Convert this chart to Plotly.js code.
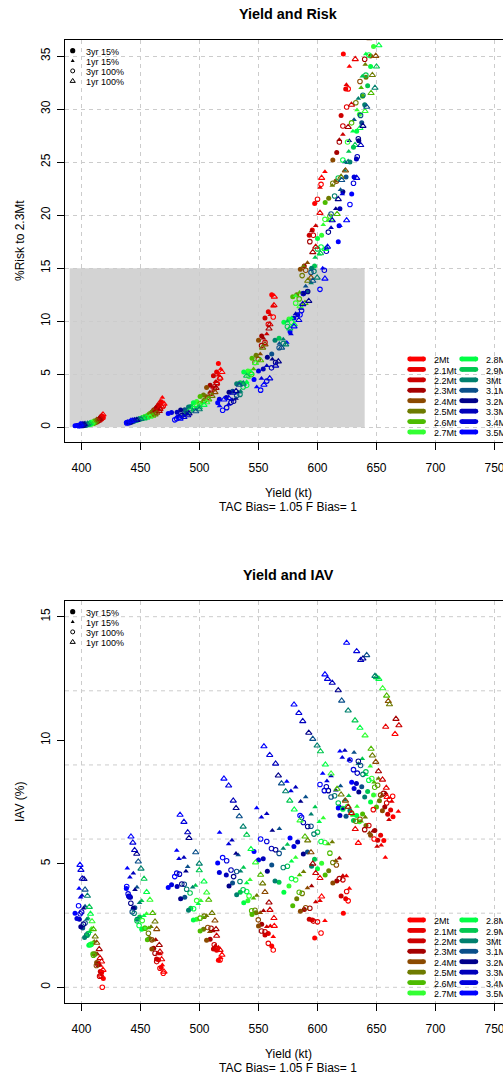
<!DOCTYPE html>
<html>
<head>
<meta charset="utf-8">
<script src="https://cdn.plot.ly/plotly-3.0.1.min.js"></script>
<style>html,body{margin:0;padding:0;overflow:hidden;background:#fff;}</style>
</head>
<body>
<div id="chart" style="width:576px;height:1077px;"></div>
<script>
// ---------------- DATA ----------------
const tacLabels = ["2Mt","2.1Mt","2.2Mt","2.3Mt","2.4Mt","2.5Mt","2.6Mt","2.7Mt","2.8Mt","2.9Mt","3Mt","3.1Mt","3.2Mt","3.3Mt","3.4Mt","3.5Mt"];
const typeLabels = ["3yr 15%","1yr 15%","3yr 100%","1yr 100%"];
const xTicks = [400,450,500,550,600,650,700,750];
const riskTicks = [0,5,10,15,20,25,30,35];
const iavTicks = [0,5,10,15];
const iavGrid = [0,3,6,9,12,15];
const riskZone = {yieldFrom:390, yieldTo:640, riskFrom:0, riskTo:15};

// rows = 8 scenario groups, columns = TAC 2Mt .. 3.5Mt
const yield3yr15 = [
 [418.5,417.2,415.9,414.1,412.8,411.0,409.6,408.0,406.2,404.9,402.6,401.0,399.4,398.2,396.1,394.5],
 [467.5,465.3,463.6,461.2,459.6,457.5,455.8,453.4,451.0,449.3,447.0,445.2,443.9,441.5,439.8,438.0],
 [516.0,514.5,511.8,509.0,506.0,503.4,500.5,497.6,494.8,492.6,490.7,487.5,484.0,481.0,476.3,473.5],
 [561.2,558.3,555.5,552.7,550.0,547.9,544.5,541.0,537.5,534.5,531.5,528.0,525.0,522.7,516.8,515.4],
 [597.6,595.6,593.0,588.8,585.5,582.4,579.0,575.8,571.5,567.4,564.0,561.2,557.5,554.0,550.0,546.2],
 [621.9,623.9,620.0,616.3,613.0,609.5,606.5,603.5,600.0,597.5,595.0,591.5,588.0,583.2,580.0,576.7],
 [656.2,653.5,651.0,648.6,645.0,641.1,638.2,635.5,633.2,630.5,627.5,624.2,621.5,619.0,618.3,617.6],
 [664.0,662.0,659.5,657.0,655.0,652.5,650.0,647.5,645.0,642.5,640.0,637.5,635.0,633.0,631.0,629.0]
];
const risk3yr15 = [
 [0.90,0.78,0.66,0.57,0.48,0.41,0.36,0.31,0.27,0.24,0.21,0.19,0.18,0.17,0.16,0.15],
 [2.40,2.10,1.85,1.62,1.42,1.25,1.10,0.98,0.88,0.78,0.70,0.63,0.57,0.52,0.48,0.45],
 [6.00,5.20,4.85,3.95,3.75,3.05,2.90,2.42,2.32,1.96,1.90,1.65,1.62,1.42,1.38,1.30],
 [12.5,10.9,10.3,8.6,8.2,6.8,6.5,5.3,5.2,4.2,4.1,3.4,3.3,2.8,2.65,2.3],
 [21.1,18.6,18.1,15.2,14.9,12.5,12.3,10.2,9.9,8.4,8.2,6.9,6.6,5.5,5.3,4.5],
 [35.2,31.9,29.4,25.9,25.2,21.6,21.2,18.1,17.8,15.2,15.0,12.8,12.6,10.6,10.3,9.0],
 [45.0,42.0,39.5,37.2,35.0,33.0,31.2,29.5,27.9,26.4,25.0,23.6,22.2,20.6,19.0,17.5],
 [52.0,49.5,47.0,44.5,42.2,40.0,37.9,35.9,34.0,32.2,30.4,28.7,27.0,25.3,23.6,22.0]
];
const iav3yr15 = [
 [0.36,0.62,0.64,0.98,1.00,1.34,1.36,1.72,1.70,2.10,2.02,2.40,2.45,2.75,2.78,3.00],
 [0.80,1.12,1.15,1.58,1.55,1.98,1.92,2.40,2.35,2.85,2.75,3.22,3.20,3.65,3.70,4.00],
 [1.10,1.50,1.55,1.95,1.90,2.35,2.28,2.75,2.72,3.20,3.12,3.65,3.58,4.08,4.15,4.04],
 [1.67,2.18,2.12,2.55,2.48,3.02,2.95,3.50,3.42,3.85,3.75,4.22,4.10,4.55,4.65,5.03],
 [2.00,2.72,2.75,3.15,3.08,3.58,3.30,4.10,3.85,4.25,4.30,4.95,4.70,5.20,5.15,5.50],
 [3.00,3.58,3.70,4.30,4.22,4.72,4.55,5.02,4.80,5.18,4.90,5.48,5.40,5.88,5.70,6.04],
 [5.94,6.15,5.95,6.35,6.15,6.55,7.01,6.70,6.95,6.75,7.15,6.92,7.25,6.95,7.30,7.26],
 [6.90,7.18,7.00,7.30,7.15,7.55,7.30,7.78,7.50,7.92,7.70,8.12,7.90,8.25,8.05,8.30]
];
const yield1yr15 = [
 [417.0,416.1,414.6,413.4,412.2,410.8,409.7,408.3,407.0,405.6,404.5,403.0,401.8,400.4,399.2,397.9],
 [468.5,466.6,464.7,462.9,460.8,458.9,457.0,455.1,452.9,451.0,449.2,447.0,445.3,443.9,441.0,438.8],
 [518.0,516.0,513.5,511.4,508.7,506.0,503.5,501.2,499.0,496.6,494.2,490.0,488.5,486.8,482.6,480.7],
 [562.5,560.0,557.0,554.2,551.5,548.6,545.8,542.8,540.0,537.3,534.8,532.8,530.9,527.5,524.7,517.0],
 [606.3,602.1,598.5,595.0,591.5,588.2,584.8,581.5,578.0,574.5,571.0,567.7,561.7,557.0,552.5,548.5],
 [627.0,624.5,621.5,618.5,615.5,612.5,609.0,604.9,601.5,598.0,594.6,590.0,585.7,581.5,577.5,574.0],
 [657.5,654.0,650.5,647.0,644.0,640.5,637.0,633.5,630.0,626.5,623.0,619.5,615.5,611.5,608.0,604.4],
 [668.5,663.0,660.6,657.9,654.5,651.7,648.0,644.7,641.0,638.0,634.6,631.0,627.0,623.2,621.0,619.0]
];
const risk1yr15 = [
 [1.10,0.95,0.82,0.70,0.60,0.52,0.45,0.40,0.35,0.31,0.28,0.25,0.23,0.22,0.21,0.20],
 [2.80,2.45,2.15,1.88,1.65,1.45,1.28,1.14,1.02,0.92,0.83,0.76,0.69,0.63,0.58,0.55],
 [5.50,4.90,4.30,3.78,3.30,2.90,2.55,2.25,2.00,1.80,1.62,1.45,1.32,1.20,1.08,1.00],
 [11.4,10.6,8.8,8.4,6.9,6.7,5.5,5.3,4.3,4.2,3.4,3.3,2.7,2.6,2.15,2.0],
 [24.1,22.6,19.0,18.5,15.5,15.2,12.7,12.4,10.3,10.0,8.3,7.9,6.4,5.8,4.6,3.8],
 [34.0,32.3,27.6,27.1,23.2,22.8,19.5,19.1,16.3,16.0,13.6,13.3,11.2,10.7,8.8,8.0],
 [48.0,45.0,42.0,39.2,36.6,34.2,32.0,29.9,27.9,26.0,24.2,22.4,20.6,18.8,16.9,15.0],
 [55.0,52.0,49.5,47.0,44.5,42.0,39.7,37.4,35.2,33.1,31.0,29.0,27.0,25.0,22.0,19.0]
];
const iav1yr15 = [
 [0.50,0.88,0.90,1.35,1.35,1.85,1.80,2.38,2.25,2.80,2.75,3.28,3.20,3.72,3.65,4.00],
 [0.90,1.35,1.38,1.92,1.90,2.45,2.40,2.98,2.90,3.50,3.42,4.05,3.95,4.62,4.45,4.82],
 [1.20,1.62,1.68,2.28,2.25,2.90,2.82,3.50,3.38,4.12,4.05,4.88,4.70,5.25,5.20,5.54],
 [2.05,2.48,2.45,3.10,3.02,3.72,3.60,4.35,4.22,4.85,4.70,5.35,5.42,5.95,5.80,6.27],
 [2.69,3.50,3.45,4.10,4.02,4.68,4.55,5.25,5.10,5.78,5.62,6.42,6.35,7.02,6.88,7.26],
 [4.00,4.50,4.52,5.22,5.12,5.88,5.80,6.85,6.70,7.30,7.00,7.70,7.52,8.10,7.95,8.33],
 [5.25,5.75,5.70,6.32,6.25,6.88,6.72,7.32,6.95,7.75,7.58,8.15,7.98,8.55,8.35,8.65],
 [7.12,7.52,6.78,7.85,7.75,8.45,8.30,8.95,8.60,9.25,9.05,9.50,9.20,9.58,9.30,9.55]
];
const yield3yr100 = [
 [417.6,416.4,415.3,413.9,412.6,411.2,410.1,408.5,407.3,405.7,404.4,403.0,401.6,400.1,398.9,397.5],
 [469.3,466.5,463.7,462.3,459.6,456.7,453.9,451.5,448.8,447.0,444.6,443.0,441.8,440.6,439.5,438.3],
 [517.4,515.0,512.5,509.8,507.0,504.0,500.5,497.6,495.0,492.0,489.1,487.1,485.0,483.0,480.7,479.0],
 [562.5,558.3,555.5,552.6,549.8,547.0,544.2,542.0,540.0,537.0,534.3,531.5,528.9,526.7,523.0,519.6],
 [603.0,600.0,596.5,593.5,590.0,587.0,584.5,581.5,578.0,574.5,571.0,567.5,564.5,561.0,557.0,551.8],
 [626.0,624.7,621.5,618.5,616.0,613.0,610.5,606.3,603.0,600.0,597.0,594.5,591.7,588.0,586.5,585.2],
 [648.0,647.3,643.5,640.0,636.0,632.5,628.9,625.5,621.5,617.6,614.5,611.5,609.2,607.5,605.8,602.1],
 [663.7,661.0,658.6,656.0,653.5,651.0,648.5,646.0,643.5,641.0,638.5,636.5,634.6,633.7,630.5,627.5]
];
const risk3yr100 = [
 [1.00,0.86,0.74,0.63,0.54,0.46,0.40,0.34,0.30,0.26,0.23,0.20,0.18,0.17,0.16,0.15],
 [2.00,1.76,1.55,1.36,1.20,1.06,0.94,0.84,0.75,0.68,0.61,0.55,0.50,0.46,0.43,0.40],
 [4.60,4.10,3.62,3.20,2.82,2.50,2.22,1.98,1.76,1.57,1.40,1.25,1.10,0.95,0.80,0.70],
 [10.4,9.7,8.0,7.7,6.4,6.1,5.0,4.8,3.95,3.8,3.1,3.0,2.45,2.35,1.85,1.6],
 [22.9,21.5,18.1,17.5,14.8,14.3,12.1,11.7,9.9,9.5,7.9,7.5,6.1,5.6,4.35,3.5],
 [31.9,30.2,28.4,26.9,23.2,23.0,19.9,19.6,17.0,16.8,14.7,14.6,12.8,12.6,11.0,10.6],
 [42.0,39.4,37.0,34.7,32.6,30.6,28.7,26.9,25.2,23.5,21.8,20.1,18.4,16.6,14.8,13.0],
 [53.0,50.5,48.0,45.6,43.3,41.1,39.0,37.0,35.1,33.2,31.3,29.4,27.2,25.5,23.0,21.0]
];
const iav3yr100 = [
 [0.00,0.48,0.45,0.92,0.88,1.35,1.30,1.75,1.72,2.18,2.12,2.60,2.55,3.05,2.98,3.30],
 [0.57,0.77,1.04,1.38,1.92,2.19,2.39,2.70,2.50,2.69,3.00,3.06,3.40,3.67,3.78,4.08],
 [1.11,1.55,1.72,2.39,2.42,2.88,2.80,3.51,3.18,3.82,3.97,4.17,4.18,4.58,4.62,4.48],
 [1.51,1.78,2.25,2.28,2.73,3.12,3.10,3.70,3.88,3.95,4.28,4.69,4.48,4.75,5.12,5.25],
 [2.20,2.65,2.68,3.20,3.22,3.80,3.85,4.35,4.40,4.90,4.85,5.42,5.57,5.62,5.90,6.00],
 [3.50,3.88,4.35,4.40,4.95,5.05,5.43,5.86,5.90,6.28,6.20,6.52,6.51,6.67,6.88,6.95],
 [6.00,7.19,6.55,6.38,6.80,6.72,7.05,7.32,7.22,7.46,7.75,7.70,7.96,8.12,7.96,8.21],
 [7.73,7.60,7.46,7.85,7.78,8.18,8.10,8.45,8.38,8.72,8.62,8.98,9.15,8.67,8.81,9.20]
];
const yield1yr100 = [
 [418.2,417.0,415.7,415.0,412.9,411.6,410.0,408.9,407.6,406.6,405.0,403.0,402.1,400.6,399.5,398.7],
 [469.9,467.9,466.5,465.9,463.7,462.3,460.3,458.0,455.2,453.0,450.4,448.1,446.8,445.0,443.5,441.9],
 [519.0,517.4,514.5,514.0,513.1,510.6,507.8,506.1,503.8,499.8,499.8,496.8,491.1,490.0,486.8,483.5],
 [563.4,563.1,559.7,558.9,555.5,553.5,551.8,547.5,543.6,540.0,537.0,533.7,531.0,528.6,524.7,520.7],
 [603.5,602.1,598.5,596.0,594.5,591.7,589.4,585.2,580.3,576.5,573.0,569.5,566.8,564.5,559.5,554.6],
 [634.6,632.0,628.8,626.0,623.7,620.0,616.6,611.5,606.7,602.5,599.7,596.0,592.6,587.5,584.2,580.1],
 [659.0,658.3,655.1,651.7,649.4,646.5,645.4,640.3,636.0,631.8,626.0,620.5,617.6,612.5,608.5,606.3],
 [665.7,657.8,669.0,666.5,660.0,661.0,658.6,655.2,652.0,650.0,648.7,641.7,638.5,636.6,633.2,624.7]
];
const risk1yr100 = [
 [1.20,1.05,0.90,0.78,0.67,0.58,0.50,0.44,0.39,0.35,0.32,0.30,0.28,0.27,0.26,0.25],
 [2.20,1.95,1.72,1.52,1.35,1.20,1.08,0.98,0.90,0.83,0.77,0.72,0.68,0.65,0.62,0.60],
 [5.20,4.65,4.15,3.70,3.30,2.95,2.62,2.35,2.10,1.88,1.68,1.50,1.30,1.12,0.95,0.80],
 [12.3,11.5,9.7,9.3,7.8,7.5,6.3,6.05,5.1,4.85,4.1,4.0,3.4,3.25,2.75,2.6],
 [23.5,20.2,17.0,16.5,14.1,13.8,11.7,11.4,9.7,9.3,7.8,7.5,6.2,5.8,4.6,4.0],
 [38.0,34.7,30.4,28.3,24.2,23.6,20.1,19.6,16.8,16.4,14.1,13.8,11.9,11.6,10.1,9.5],
 [44.0,41.5,39.2,37.0,35.0,33.2,31.5,29.8,28.2,26.6,25.0,23.3,21.5,19.5,17.0,14.0],
 [56.0,53.0,50.5,48.0,45.5,43.0,40.5,38.2,36.0,34.0,32.0,30.2,28.4,26.6,23.5,19.5]
];
const iav1yr100 = [
 [0.70,1.04,1.18,1.54,1.80,2.05,2.35,2.67,2.97,3.25,3.70,3.95,4.38,4.40,4.75,4.95],
 [0.63,1.13,1.44,1.71,2.35,2.66,3.00,3.54,3.85,4.39,4.80,5.09,5.40,5.55,5.85,6.10],
 [1.31,1.51,2.08,2.35,2.70,3.00,3.54,3.83,4.28,4.73,5.00,5.46,6.04,6.27,6.69,6.98],
 [2.48,2.80,3.13,3.43,3.85,4.20,4.55,5.05,5.59,6.17,6.50,6.92,7.25,7.55,8.16,8.44],
 [3.67,4.42,4.62,5.00,5.46,5.94,6.10,6.75,7.19,7.55,7.93,8.25,8.57,9.05,9.40,9.75],
 [5.84,6.40,7.05,7.30,7.55,7.80,8.03,8.65,9.01,9.55,9.78,10.05,10.30,10.77,11.10,11.44],
 [7.70,8.07,8.40,8.74,9.12,9.38,9.65,10.19,10.50,10.80,11.20,11.60,12.02,12.32,12.48,12.66],
 [10.25,10.54,10.60,10.86,11.58,11.45,11.80,12.10,12.48,12.55,12.60,13.44,13.30,13.24,13.60,13.94]
];

// ---------------- STYLE ----------------
const tacColors = ["#FF0000","#E80000","#CC0000","#A50000","#8B4A00","#6E7B00","#4DBB00","#33FF33",
                   "#00FF44","#00C850","#00806E","#0A4F8A","#00008B","#0000BB","#0000DD","#0000FF"];
const FONT = "Liberation Sans, Arial, Helvetica, sans-serif";
const GRID = "#CCCCCC";
const W = 576, H = 1077, ML = 65, MR = 65, MT = 40, MB = 74;
const PW = W - ML - MR, PH = H - MT - MB;
const pxX = v => (v - ML) / PW;
const pxY = v => (H - MB - v) / PH;
const panels = [{top: 40, bottom: 442}, {top: 601, bottom: 1003}];

const types = [
  {label: typeLabels[0], yld: yield3yr15, risk: risk3yr15, iav: iav3yr15, symbol: "circle", size: 5, open: false},
  {label: typeLabels[1], yld: yield1yr15, risk: risk1yr15, iav: iav1yr15, symbol: "triangle-up", size: 5, open: false},
  {label: typeLabels[2], yld: yield3yr100, risk: risk3yr100, iav: iav3yr100, symbol: "circle-open", size: 4.5, open: true},
  {label: typeLabels[3], yld: yield1yr100, risk: risk1yr100, iav: iav1yr100, symbol: "triangle-up-open", size: 5.5, open: true}
];

const traces = [];
types.forEach(tp => {
  const xs = [], rs = [], vs = [], cs = [];
  tp.yld.forEach((row, g) => row.forEach((x, t) => {
    xs.push(x); rs.push(tp.risk[g][t]); vs.push(tp.iav[g][t]); cs.push(tacColors[t]);
  }));
  const mk = {symbol: tp.symbol, size: tp.size, color: cs,
              line: {color: cs, width: tp.open ? 1.1 : 0}};
  traces.push({type: "scatter", mode: "markers", x: xs, y: rs, xaxis: "x", yaxis: "y",
               marker: mk, showlegend: false, hoverinfo: "skip", name: tp.label});
  traces.push({type: "scatter", mode: "markers", x: xs, y: vs, xaxis: "x2", yaxis: "y2",
               marker: mk, showlegend: false, hoverinfo: "skip", name: tp.label});
});

// ---------------- SHAPES / ANNOTATIONS ----------------
const shapes = [];
const annotations = [];

shapes.push({type: "rect", xref: "x", yref: "y", x0: riskZone.yieldFrom, x1: riskZone.yieldTo,
             y0: riskZone.riskFrom, y1: riskZone.riskTo, fillcolor: "#D3D3D3", line: {width: 0}, layer: "below"});
iavGrid.forEach(v => shapes.push({type: "line", xref: "paper", yref: "y2", x0: 0, x1: 1, y0: v, y1: v,
             line: {color: GRID, width: 1, dash: "4px,4px"}, layer: "below"}));

function circ(xp, yp, r, color, filled) {
  return {type: "circle", xref: "paper", yref: "paper", xsizemode: "pixel", ysizemode: "pixel",
          xanchor: xp, yanchor: yp, x0: -r, x1: r, y0: -r, y1: r,
          fillcolor: filled ? color : "rgba(0,0,0,0)", line: {color: color, width: filled ? 0 : 1}};
}
function tri(xp, yp, s, color, filled) {
  const h = s * 0.9;
  return {type: "path", xref: "paper", yref: "paper", xsizemode: "pixel", ysizemode: "pixel",
          xanchor: xp, yanchor: yp,
          path: `M ${-s},${-h * 0.6} L ${s},${-h * 0.6} L 0,${h * 1.1} Z`,
          fillcolor: filled ? color : "rgba(0,0,0,0)", line: {color: color, width: filled ? 0 : 1}};
}

const txt = (text, x, y, size, opts) => Object.assign({text: text, x: x, y: y, xref: "paper", yref: "paper",
  showarrow: false, font: {family: FONT, size: size, color: "#000"}, xanchor: "center", yanchor: "middle"}, opts || {});

const titles = ["<b>Yield and Risk</b>", "<b>Yield and IAV</b>"];
const yTitles = ["%Risk to 2.3Mt", "IAV (%)"];
panels.forEach((p, k) => {
  annotations.push(txt(titles[k], 0.5, pxY(p.top - 26.5), 14.4));
  annotations.push(txt("Yield (kt)", 0.5, pxY(p.bottom + 50.7), 12));
  annotations.push(txt("TAC Bias= 1.05 F Bias= 1", 0.5, pxY(p.bottom + 64.7), 12));
  annotations.push(txt(yTitles[k], pxX(20), pxY((p.top + p.bottom) / 2), 12, {textangle: -90}));
  // marker-type legend
  for (let i = 0; i < 4; i++) {
    const yy = pxY(p.top + 10.7 + 10.1 * i);
    const xx = pxX(72.7);
    if (i === 0) shapes.push(circ(xx, yy, 2.6, "#000", true));
    if (i === 1) shapes.push(tri(xx, yy, 2.0, "#000", true));
    if (i === 2) shapes.push(circ(xx, yy, 2.0, "#000", false));
    if (i === 3) shapes.push(tri(xx, yy, 2.6, "#000", false));
    annotations.push(txt(typeLabels[i], pxX(84), pxY(p.top + 11.7 + 10.1 * i), 9, {xanchor: "left"}));
  }
  // TAC colour legend
  tacLabels.forEach((lab, t) => {
    const col = t < 8 ? 0 : 1, row = t % 8;
    const yPix = p.bottom - 83 + 10.43 * row;
    const x0 = col ? 459.3 : 407.3, x1 = col ? 478.3 : 426.0;
    const yy = pxY(yPix);
    shapes.push({type: "line", xref: "paper", yref: "paper", x0: pxX(x0 + 2.4), x1: pxX(x1 - 2.4), y0: yy, y1: yy,
                 line: {color: tacColors[t], width: 4.8}});
    shapes.push(circ(pxX(x0 + 2.4), yy, 2.4, tacColors[t], true));
    shapes.push(circ(pxX(x1 - 2.4), yy, 2.4, tacColors[t], true));
    annotations.push(txt(lab, pxX(col ? 483.5 : 431.5), pxY(yPix + 1.2), 9, {xanchor: "left"}));
  });
});

// ---------------- AXES ----------------
const xAxisBase = {
  range: [386, 764], tickmode: "array", tickvals: xTicks, ticks: "outside", ticklen: 7, tickwidth: 1,
  tickcolor: "#000", showline: true, linecolor: "#000", linewidth: 1, mirror: true,
  showgrid: true, gridcolor: GRID, gridwidth: 1, griddash: "4px,4px", zeroline: false,
  tickfont: {family: FONT, size: 12, color: "#000"}, ticklabelstandoff: 8, fixedrange: true
};
const yAxisBase = {
  tickmode: "array", ticks: "outside", ticklen: 7, tickwidth: 1, tickcolor: "#000",
  showline: true, linecolor: "#000", linewidth: 1, mirror: true, zeroline: false,
  gridcolor: GRID, gridwidth: 1, griddash: "4px,4px", tickangle: -90,
  tickfont: {family: FONT, size: 12, color: "#000"}, ticklabelstandoff: 2, fixedrange: true
};

const layout = {
  width: W, height: H, margin: {l: ML, r: MR, t: MT, b: MB, pad: 0},
  paper_bgcolor: "#fff", plot_bgcolor: "#fff", showlegend: false,
  font: {family: FONT, size: 12, color: "#000"},
  xaxis: Object.assign({}, xAxisBase, {anchor: "y", domain: [0, 1]}),
  yaxis: Object.assign({}, yAxisBase, {anchor: "x", domain: [pxY(442), pxY(40)], range: [-1.39, 36.51],
                                       tickvals: riskTicks, showgrid: true}),
  xaxis2: Object.assign({}, xAxisBase, {anchor: "y2", domain: [0, 1]}),
  yaxis2: Object.assign({}, yAxisBase, {anchor: "x2", domain: [pxY(1003), pxY(601)], range: [-0.635, 15.635],
                                        tickvals: iavTicks, showgrid: false}),
  shapes: shapes, annotations: annotations
};

Plotly.newPlot("chart", traces, layout, {staticPlot: true, displayModeBar: false});
</script>
</body>
</html>
